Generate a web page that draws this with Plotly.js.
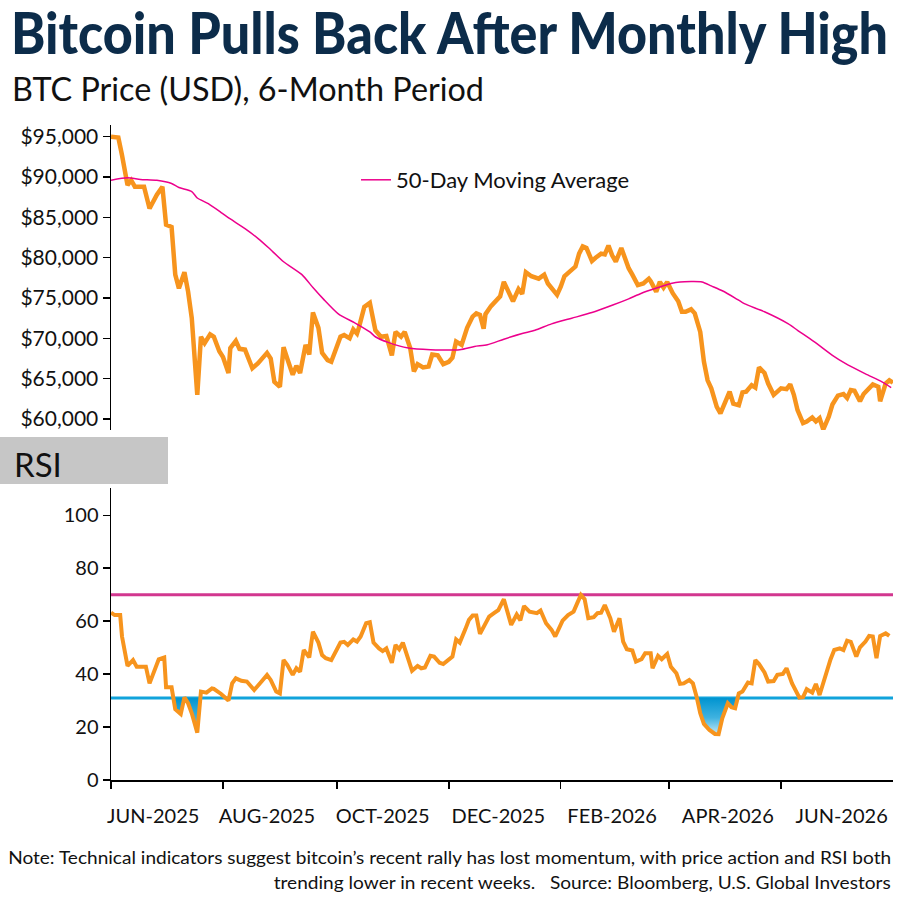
<!DOCTYPE html>
<html>
<head>
<meta charset="utf-8">
<script src="https://cdn.plot.ly/plotly-3.0.1.min.js"></script>
<style>
  html, body { margin: 0; padding: 0; background: #fff; }
  #chart { width: 900px; height: 900px; }
</style>
</head>
<body>
<div id="chart"></div>
<script>
// ---- Data: day offsets are days since 1 May 2025 ----
const START = Date.UTC(2025, 4, 1);

const priceDay = [
  0, 4, 6, 9, 11, 13, 18, 21, 25, 28,
  30, 33, 35, 37, 40, 42, 44, 47, 49, 51,
  54, 56, 59, 61, 64, 65, 68, 70, 73, 77,
  80, 85, 87, 89, 92, 94, 96, 99, 101, 103,
  106, 108, 110, 113, 115, 118, 120, 123, 125, 127,
  130, 132, 134, 135, 138, 141, 144, 147, 150, 153,
  155, 158, 160, 163, 165, 167, 170, 173, 175, 178,
  181, 184, 186, 188, 191, 194, 197, 199, 201, 203,
  204, 207, 210, 212, 214, 217, 219, 222, 224, 226,
  229, 233, 236, 238, 240, 243, 245, 247, 250, 253,
  255, 257, 259, 262, 264, 267, 269, 271, 273, 275,
  278, 280, 282, 284, 287, 290, 293, 294, 297, 299,
  301, 303, 306, 309, 311, 313, 316, 318, 321, 323,
  325, 327, 330, 332, 334, 337, 339, 342, 344, 346,
  349, 351, 353, 356, 358, 361, 363, 365, 368, 370,
  372, 374, 377, 379, 382, 384, 386, 388, 391, 393,
  396, 399, 401, 403, 405, 408, 410, 412, 415, 418,
  419, 422, 424, 426
];
const priceUsd = [
  95000, 94900, 92700, 89000, 89600, 88800, 88800, 86100, 87800, 88800,
  84100, 83800, 77900, 76200, 78200, 75800, 72500, 63000, 70200, 69400,
  70500, 70200, 68400, 67700, 65700, 68800, 69700, 68700, 68600, 66300,
  66900, 68200, 67500, 64600, 64000, 68900, 67500, 65500, 66600, 65700,
  69200, 68000, 73200, 71300, 68200, 67300, 67100, 69000, 70200, 70400,
  70000, 71100, 70600, 71300, 73900, 74400, 71000, 70200, 70300, 67900,
  70800, 70200, 70800, 68800, 65900, 66800, 66400, 66500, 68000, 67900,
  66800, 67100, 67600, 69600, 69200, 71300, 72700, 73100, 72900, 71200,
  73000, 74000, 74800, 75200, 77000, 75600, 74600, 76100, 75500, 78200,
  77700, 77400, 77900, 76800, 76200, 75400, 76400, 77700, 78300, 78900,
  80500, 81400, 81200, 79600, 80000, 80500, 80400, 81500, 80300, 79500,
  81200, 80000, 78700, 77900, 76600, 76800, 77400, 77100, 75800, 77000,
  76300, 77000, 75600, 74600, 73300, 73300, 73600, 73100, 70800, 67100,
  64800, 63800, 61500, 60700, 61700, 63400, 61900, 61700, 63300, 63400,
  64200, 63900, 66400, 65700, 64400, 63000, 63400, 63800, 63700, 64300,
  63000, 61100, 59500, 59700, 60200, 59700, 60100, 58700, 60300, 61800,
  62900, 63100, 62600, 63600, 63500, 62200, 63100, 63600, 64300, 64000,
  62200, 64400, 64800, 64500
];

const maDay = [
  0, 9, 16, 25, 33, 37, 44, 47, 53, 60,
  65, 73, 80, 86, 94, 104, 110, 116, 124, 133,
  141, 144, 151, 162, 174, 190, 198, 205, 214, 224,
  231, 240, 251, 262, 273, 282, 289, 298, 305, 310,
  322, 327, 333, 340, 345, 356, 369, 374, 383, 393,
  400, 411, 420, 425
];
const maUsd = [
  89600, 89900, 89700, 89600, 89200, 88700, 88200, 87400, 86700, 85600,
  84800, 83600, 82400, 81200, 79500, 77900, 76300, 74800, 73000, 71900,
  70800, 70200, 69500, 68800, 68600, 68600, 69000, 69200, 69900, 70600,
  71000, 71800, 72500, 73200, 74100, 74900, 75600, 76300, 76800, 77000,
  77000, 76500, 75900, 75000, 74300, 73300, 71800, 71000, 69600, 67900,
  66900, 65600, 64600, 63900
];

const rsiDay = [
  0, 2, 5, 6, 9, 12, 14, 19, 21, 24,
  26, 29, 30, 33, 35, 38, 40, 42, 44, 47,
  49, 52, 55, 56, 60, 64, 66, 68, 71, 74,
  78, 82, 85, 87, 90, 92, 94, 96, 99, 101,
  103, 105, 108, 110, 113, 115, 117, 120, 123, 125,
  127, 129, 132, 134, 136, 139, 141, 143, 146, 148,
  150, 153, 155, 157, 159, 162, 164, 167, 169, 171,
  174, 176, 179, 181, 184, 186, 188, 190, 193, 195,
  197, 199, 201, 204, 206, 209, 211, 214, 216, 218,
  221, 223, 225, 228, 232, 234, 237, 240, 242, 244,
  246, 249, 252, 254, 256, 258, 260, 263, 265, 267,
  269, 272, 274, 277, 279, 281, 284, 286, 289, 291,
  294, 295, 298, 300, 303, 305, 308, 310, 312, 315,
  317, 319, 321, 323, 326, 329, 331, 333, 336, 338,
  340, 342, 344, 347, 349, 351, 353, 356, 358, 361,
  363, 366, 368, 371, 373, 375, 377, 379, 382, 384,
  386, 389, 392, 394, 397, 399, 401, 403, 406, 408,
  411, 413, 415, 417, 419, 422, 424
];
const rsiVal = [
  63.2, 62.3, 62.3, 54.2, 43.1, 45.3, 42.8, 42.8, 36.5, 41.6,
  45.6, 46.3, 35.0, 35.0, 26.7, 24.9, 31.2, 29.0, 25.2, 17.9,
  33.4, 33.0, 34.6, 34.4, 32.5, 30.0, 36.5, 38.4, 37.5, 37.2,
  34.0, 37.2, 39.7, 37.8, 33.4, 32.7, 45.3, 43.5, 39.7, 42.2,
  40.9, 49.1, 46.3, 56.0, 51.9, 47.2, 46.0, 45.3, 49.1, 51.9,
  52.2, 51.0, 53.1, 52.3, 54.2, 59.2, 59.6, 51.9, 49.7, 48.7,
  49.7, 44.3, 51.0, 49.4, 51.9, 46.0, 41.3, 43.1, 42.2, 42.5,
  46.9, 46.6, 44.3, 43.8, 45.3, 46.6, 53.1, 51.9, 56.9, 60.5,
  62.1, 62.1, 55.2, 59.2, 61.7, 63.2, 64.2, 68.3, 63.0, 58.6,
  62.5, 60.3, 65.7, 63.6, 63.0, 64.0, 59.2, 56.7, 54.2, 56.9,
  60.2, 62.3, 63.6, 66.8, 69.9, 68.3, 61.1, 61.5, 63.0, 63.2,
  66.1, 61.1, 56.0, 61.1, 52.3, 49.4, 48.9, 44.7, 45.6, 47.9,
  47.9, 42.2, 46.9, 45.6, 47.6, 42.8, 40.3, 36.3, 36.5, 37.8,
  36.5, 31.5, 25.2, 21.2, 18.9, 17.4, 17.3, 23.3, 29.0, 27.5,
  27.1, 32.7, 33.4, 36.8, 36.5, 45.3, 43.8, 40.6, 37.2, 37.4,
  39.7, 40.1, 42.2, 36.5, 33.4, 31.1, 31.3, 34.3, 33.0, 36.3,
  32.1, 39.0, 45.6, 49.1, 49.7, 49.1, 52.6, 52.2, 46.6, 50.1,
  52.3, 54.4, 54.2, 46.0, 54.4, 55.4, 54.4
];

const overbought = 70;
const oversold = 31;

const priceTicks = [60000, 65000, 70000, 75000, 80000, 85000, 90000, 95000];
const rsiTicks = [0, 20, 40, 60, 80, 100];
const monthLabels = ['JUN-2025', 'AUG-2025', 'OCT-2025', 'DEC-2025', 'FEB-2026', 'APR-2026', 'JUN-2026'];
const monthLabelDates = ['2025-05-24', '2025-07-25', '2025-09-26', '2025-11-28', '2026-01-29', '2026-04-02', '2026-06-03'];
const periodTickDates = ['2025-05-01', '2025-07-01', '2025-09-01', '2025-11-01', '2026-01-01', '2026-03-01', '2026-05-01'];
const axisRange = ['2025-05-01', '2026-07-01'];

// ---- Helpers ----
const pad = n => String(n).padStart(2, '0');
function dayToDate(d) {
  if (d === null) return null;
  const t = new Date(START + d * 86400000);
  return `${t.getUTCFullYear()}-${pad(t.getUTCMonth() + 1)}-${pad(t.getUTCDate())} ` +
         `${pad(t.getUTCHours())}:${pad(t.getUTCMinutes())}:${pad(t.getUTCSeconds())}`;
}
const usd = v => '$' + v.toLocaleString('en-US');

// Closed polygons for every stretch where RSI sits below the oversold level
function regionsBelow(xs, ys, level) {
  const px = [], py = [];
  for (let i = 0; i < ys.length; i++) {
    const below = ys[i] < level;
    if (i > 0 && below !== (ys[i - 1] < level)) {
      const t = (level - ys[i - 1]) / (ys[i] - ys[i - 1]);
      px.push(xs[i - 1] + t * (xs[i] - xs[i - 1]));
      py.push(level);
      if (!below) { px.push(null); py.push(null); }
    }
    if (below) {
      if (i === 0) { px.push(xs[0]); py.push(level); }
      px.push(xs[i]); py.push(ys[i]);
    }
  }
  return { x: px.map(dayToDate), y: py };
}

const ORANGE = '#f7941d';
const MAGENTA = '#ec008c';
const FONT = 'Lato, "Open Sans", sans-serif';
const oversoldFill = regionsBelow(rsiDay, rsiVal, oversold);

const traces = [
  {
    x: priceDay.map(dayToDate), y: priceUsd, xaxis: 'x', yaxis: 'y',
    type: 'scatter', mode: 'lines', showlegend: false,
    line: { color: ORANGE, width: 4.5 }
  },
  {
    x: maDay.map(dayToDate), y: maUsd, xaxis: 'x', yaxis: 'y',
    type: 'scatter', mode: 'lines', name: '50-Day Moving Average',
    line: { color: MAGENTA, width: 1.5, shape: 'spline', smoothing: 0.6 }
  },
  {
    x: oversoldFill.x, y: oversoldFill.y, xaxis: 'x2', yaxis: 'y2',
    type: 'scatter', mode: 'lines', showlegend: false, fill: 'toself',
    line: { width: 0 }, connectgaps: false,
    fillgradient: {
      type: 'vertical', start: 16, stop: oversold,
      colorscale: [[0, '#e3f5fc'], [0.5, '#3fb2e0'], [1, '#0094d0']]
    }
  },
  {
    x: rsiDay.map(dayToDate), y: rsiVal, xaxis: 'x2', yaxis: 'y2',
    type: 'scatter', mode: 'lines', showlegend: false,
    line: { color: ORANGE, width: 4 }
  }
];

// plot area: x 111..893 px, y 125..780 px
const pxX = px => (px - 111) / 782;
const pxY = py => (780 - py) / 655;

const layout = {
  width: 900, height: 900,
  margin: { l: 111, r: 7, t: 125, b: 120 },
  paper_bgcolor: '#ffffff', plot_bgcolor: '#ffffff',
  font: { family: FONT, color: '#111111' },
  hovermode: false,
  title: {
    text: 'Bitcoin Pulls Back After Monthly High',
    font: { family: FONT, size: 57, color: '#0c2c4a', weight: 900 },
    xref: 'container', yref: 'container',
    x: 11 / 900, xanchor: 'left', y: 1 - 34 / 900, yanchor: 'middle'
  },
  showlegend: true,
  legend: {
    x: pxX(356), xanchor: 'left', y: pxY(180), yanchor: 'middle',
    bgcolor: 'rgba(0,0,0,0)', borderwidth: 0,
    font: { family: FONT, size: 22, color: '#111111' }
  },
  xaxis: {
    anchor: 'y', matches: 'x2', type: 'date', range: axisRange,
    showticklabels: false, ticks: '', showline: false, showgrid: false, zeroline: false
  },
  yaxis: {
    anchor: 'x', domain: [pxY(430), 1], range: [58640, 96450],
    tickmode: 'array', tickvals: priceTicks, ticktext: priceTicks.map(usd),
    ticks: 'outside', ticklen: 7, tickwidth: 1.5, tickcolor: '#000',
    showline: true, linecolor: '#000', linewidth: 1.5,
    showgrid: false, zeroline: false,
    tickfont: { family: FONT, size: 21, color: '#111111' }
  },
  xaxis2: {
    anchor: 'y2', type: 'date', range: axisRange,
    tickmode: 'array', tickvals: monthLabelDates, ticktext: monthLabels,
    ticks: '', ticklabelstandoff: 17,
    minor: { tickmode: 'array', tickvals: periodTickDates, ticks: 'outside', ticklen: 7, tickwidth: 1.5, tickcolor: '#000', showgrid: false },
    showline: true, linecolor: '#000', linewidth: 1.5,
    showgrid: false, zeroline: false,
    tickfont: { family: FONT, size: 20, color: '#111111' }
  },
  yaxis2: {
    anchor: 'x2', domain: [0, pxY(488)], range: [0, 110.3],
    tickmode: 'array', tickvals: rsiTicks,
    ticks: 'outside', ticklen: 7, tickwidth: 1.5, tickcolor: '#000',
    showline: true, linecolor: '#000', linewidth: 1.5,
    showgrid: false, zeroline: false,
    tickfont: { family: FONT, size: 20, color: '#111111' }
  },
  shapes: [
    { type: 'line', layer: 'below', xref: 'paper', yref: 'y2', x0: 0, x1: 1, y0: overbought, y1: overbought,
      line: { color: '#d2378f', width: 3 } },
    { type: 'line', layer: 'below', xref: 'paper', yref: 'y2', x0: 0, x1: 1, y0: oversold, y1: oversold,
      line: { color: '#11a3db', width: 3 } },
    { type: 'rect', layer: 'below', xref: 'paper', yref: 'paper',
      x0: pxX(0), x1: pxX(168), y0: pxY(484), y1: pxY(437),
      fillcolor: '#c6c6c6', line: { width: 0 } }
  ],
  annotations: [
    { text: 'BTC Price (USD), 6-Month Period', xref: 'paper', yref: 'paper',
      x: pxX(10), xanchor: 'left', align: 'left', y: pxY(88), yanchor: 'middle', showarrow: false,
      font: { family: FONT, size: 33, color: '#111111' } },
    { text: 'RSI', xref: 'paper', yref: 'paper',
      x: pxX(12), xanchor: 'left', align: 'left', y: pxY(464), yanchor: 'middle', showarrow: false,
      font: { family: FONT, size: 33, color: '#111111' } },
    { text: 'Note: Technical indicators suggest bitcoin\u2019s recent rally has lost momentum, with price action and RSI both',
      xref: 'paper', yref: 'paper', x: 1, xanchor: 'right', align: 'right', y: pxY(857), yanchor: 'middle', showarrow: false,
      font: { family: FONT, size: 18, color: '#111111' } },
    { text: 'trending lower in recent weeks.\u00a0\u00a0\u00a0Source: Bloomberg, U.S. Global Investors',
      xref: 'paper', yref: 'paper', x: 1, xanchor: 'right', align: 'right', y: pxY(882), yanchor: 'middle', showarrow: false,
      font: { family: FONT, size: 18, color: '#111111' } }
  ]
};

// Stretch long headline/footnote strings to their set widths
function fitText(str, width) {
  document.querySelectorAll('#chart svg text').forEach(t => {
    if (t.textContent === str) {
      t.setAttribute('textLength', width);
      t.setAttribute('lengthAdjust', 'spacingAndGlyphs');
    }
  });
}

Plotly.newPlot('chart', traces, layout, { staticPlot: true, displayModeBar: false }).then(() => {
  fitText('Bitcoin Pulls Back After Monthly High', 877);
  fitText('BTC Price (USD), 6-Month Period', 472);
  fitText('Note: Technical indicators suggest bitcoin\u2019s recent rally has lost momentum, with price action and RSI both', 883);
  fitText('trending lower in recent weeks.\u00a0\u00a0\u00a0Source: Bloomberg, U.S. Global Investors', 617);
});
</script>
</body>
</html>
